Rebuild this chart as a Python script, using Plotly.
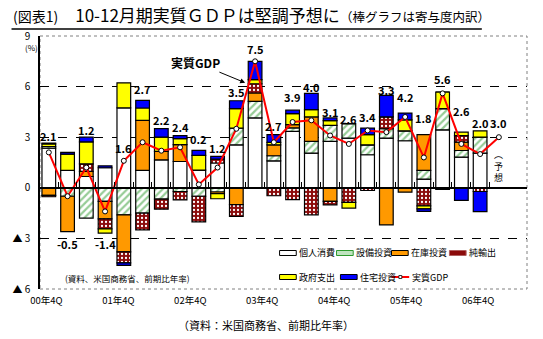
import plotly.graph_objects as go

# ---------------- data ----------------
quarters = ["00Q4", "01Q1", "01Q2", "01Q3", "01Q4", "02Q1", "02Q2", "02Q3", "02Q4",
            "03Q1", "03Q2", "03Q3", "03Q4", "04Q1", "04Q2", "04Q3", "04Q4",
            "05Q1", "05Q2", "05Q3", "05Q4", "06Q1", "06Q2", "06Q3", "06Q4"]
consumption = [2.35, 1.03, 0.67, 1.19, 4.74, 1.03, 1.66, 1.56, 1.05, 1.47, 2.55, 4.14,
               1.60, 3.35, 2.06, 2.75, 2.95, 1.96, 2.95, 2.79, 0.52, 3.44, 1.82, 2.06]
equipment = [0.10, -0.50, -1.80, -0.81, -1.60, -1.50, -0.67, -0.22, -0.50, -0.25, 0.99, 0.98,
             0.30, 0.20, 0.69, 0.95, 0.85, 0.59, 0.55, 0.59, 0.51, 1.25, 0.39, 0.94]
inventory = [-0.45, -2.10, 0.30, -1.03, -2.20, 2.97, 0.50, 1.00, 0.00, -0.10, -1.00, 0.50,
             0.65, 0.20, 1.45, -0.81, 0.00, 0.00, -2.20, -0.26, 2.12, 0.00, 0.50, 0.00]
net_exports = [-0.08, 0.00, 0.45, -0.59, -0.65, -1.00, -0.60, -0.49, -1.52, 0.23, -0.70, 0.55,
               -0.47, -0.70, -1.60, -0.20, -0.87, -0.16, 0.70, 0.00, -1.07, -0.10, 0.38, -0.22]
government = [0.15, 0.97, 1.30, -0.26, 1.48, 0.73, 0.85, 0.35, 0.87, -0.30, 1.15, 0.24,
              0.14, 0.65, 0.43, 0.28, -0.33, 0.60, 0.00, 0.65, -0.18, 0.99, 0.21, 0.38]
residential = [0.05, 0.10, 0.28, 0.11, -0.15, 0.45, 0.50, 0.18, 0.30, 0.16, 0.47, 1.09,
               0.46, 0.20, 0.97, 0.16, 0.00, 0.39, 1.28, 0.40, -0.15, 0.00, -0.75, -1.19]
gdp = [2.1, -0.5, 1.2, -1.4, 1.6, 2.7, 2.2, 2.4, 0.2, 1.2, 3.5, 7.5, 2.7, 3.9, 4.0, 3.1, 2.6,
       3.4, 3.3, 4.2, 1.8, 5.6, 2.6, 2.0, 3.0]
year_labels = ["00年4Q", "01年4Q", "02年4Q", "03年4Q", "04年4Q", "05年4Q", "06年4Q"]
y_ticks = [-6, -3, 0, 3, 6, 9]
y_ticktext = ["▲ 6", "▲ 3", "0", "3", "6", "9"]

# label vertical offsets (pixels) relative to bar stack end
label_shift = [7, -12, 7.5, -11, -65, 11, 9, 9, 11, 8, 9, 12.5, 9, 13, 6, 6, 5, 11, 5, 16,
               17, 13, 21, 8, 14.5]

FONT = "Noto Sans CJK JP"
n_bars = len(consumption)
xb = list(range(n_bars))
xl = list(range(len(gdp)))

# plot-area pixel geometry helpers (for decorations only)
L, R, T, B = 31, 527, 36, 289
def px(p):
    return (p - L) / (R - L)
def py(p):
    return (B - p) / (B - T)

fig = go.Figure()

series = [
    ("個人消費", consumption, dict(color="#FFFFFF")),
    ("設備投資", equipment, dict(color="#FFFFFF",
                              pattern=dict(shape="/", fgcolor="#2E9A2E", bgcolor="#FFFFFF",
                                           size=5, solidity=0.45))),
    ("在庫投資", inventory, dict(color="#FF9900")),
    ("純輸出", net_exports, dict(color="#8B0A0A",
                              pattern=dict(shape=".", fgcolor="#FFFFFF", bgcolor="#8B0A0A",
                                           size=4, solidity=0.25, fillmode="replace"))),
    ("政府支出", government, dict(color="#FFFF00")),
    ("住宅投資", residential, dict(color="#0000FF")),
]
for name, vals, mk in series:
    mk = dict(mk)
    mk["line"] = dict(color="#000000", width=1.2)
    fig.add_trace(go.Bar(x=xb, y=vals, name=name, marker=mk, showlegend=False,
                         hoverinfo="skip"))

# GDP line drawn on the overlaid axis that also carries the zero line and inner ticks
fig.add_trace(go.Scatter(x=xl, y=gdp, name="実質GDP", mode="lines+markers",
                         xaxis="x2",
                         line=dict(color="#FF0000", width=2),
                         marker=dict(symbol="circle", size=5, color="#FFFFFF",
                                     line=dict(color="#000000", width=1)),
                         showlegend=False, hoverinfo="skip"))
# empty trace that activates the year-label axis
fig.add_trace(go.Scatter(x=[], y=[], xaxis="x3", showlegend=False, hoverinfo="skip"))

ann = []
# GDP value labels
for i, v in enumerate(gdp):
    if i < n_bars:
        comps = [s[1][i] for s in series]
        pos = sum(c for c in comps if c > 0)
        neg = sum(c for c in comps if c < 0)
        anchor = pos if v >= 0 else neg
    else:
        anchor = v
    ann.append(dict(x=xl[i], y=anchor, yshift=label_shift[i], text=f"{v:.1f}",
                    showarrow=False, xanchor="center", yanchor="middle",
                    font=dict(family=FONT, size=11, color="#000000", weight="bold")))

# forecast note
ann.append(dict(x=xl[-1], y=gdp[-1], yshift=-29, text="︵<br>予<br>想", showarrow=False,
                xanchor="center", yanchor="middle",
                font=dict(family=FONT, size=9, color="#000000")))
# 実質GDP arrow label
ann.append(dict(x=10.47, y=6.23, ax=7.8, ay=7.45, axref="x", ayref="y", text="<b>実質GDP</b>",
                showarrow=True, arrowhead=2, arrowsize=1, arrowwidth=1, arrowcolor="#000000",
                standoff=0, startstandoff=0,
                font=dict(family=FONT, size=12, color="#000000")))
# source note inside plot
ann.append(dict(xref="paper", yref="paper", x=px(120), y=py(278), text="(資料、米国商務省、前期比年率)",
                showarrow=False, xanchor="center", yanchor="middle",
                font=dict(family=FONT, size=8.5, color="#000000")))
# (%)
ann.append(dict(xref="paper", yref="paper", x=px(31), y=py(48), text="(%)",
                showarrow=False, xanchor="right", yanchor="middle",
                font=dict(family=FONT, size=8, color="#000000")))
# title
ann.append(dict(xref="paper", yref="paper", x=px(1), y=py(14), showarrow=False,
                xanchor="left", yanchor="middle",
                text="<span style='font-size:14px'>(図表1)</span>　10-12月期実質ＧＤＰは堅調予想に"
                     "<span style='font-size:12.5px'>（棒グラフは寄与度内訳）</span>",
                font=dict(family=FONT, size=17, color="#000000")))
# bottom source
ann.append(dict(xref="paper", yref="paper", x=px(261), y=py(325), showarrow=False,
                xanchor="center", yanchor="middle", text="（資料：米国商務省、前期比年率）",
                font=dict(family=FONT, size=11, color="#000000")))

shapes = []
# plot border (dotted)
shapes.append(dict(type="rect", xref="paper", yref="paper", x0=0, x1=1, y0=0, y1=1,
                   line=dict(color="#808080", width=1, dash="dot"), layer="below"))
# title underline
shapes.append(dict(type="line", xref="paper", yref="paper", x0=px(2), x1=px(481),
                   y0=py(29), y1=py(29), line=dict(color="#000000", width=1.5)))

# manual legend
leg_items = [
    ("個人消費", 275, 253, dict(fill="#FFFFFF", line="#000000")),
    ("設備投資", 333, 253, dict(fill="#BFE3BF", line="#2E9A2E")),
    ("在庫投資", 389, 253, dict(fill="#FF9900", line="#000000")),
    ("純輸出", 448, 253, dict(fill="#8B0A0A", line="#B06060")),
    ("政府支出", 275, 277, dict(fill="#FFFF00", line="#000000")),
    ("住宅投資", 337, 277, dict(fill="#0000FF", line="#000000")),
]
for name, x0, yc, st in leg_items:
    shapes.append(dict(type="rect", xref="paper", yref="paper", x0=px(x0), x1=px(x0 + 17),
                       y0=py(yc + 2.5), y1=py(yc - 2.5), fillcolor=st["fill"],
                       line=dict(color=st["line"], width=1)))
    ann.append(dict(xref="paper", yref="paper", x=px(x0 + 18), y=py(yc), text=name,
                    showarrow=False, xanchor="left", yanchor="middle",
                    font=dict(family=FONT, size=9, color="#000000")))
shapes.append(dict(type="line", xref="paper", yref="paper", x0=px(389), x1=px(407),
                   y0=py(277), y1=py(277), line=dict(color="#FF0000", width=2)))
shapes.append(dict(type="rect", xref="paper", yref="paper", x0=px(396.5), x1=px(399.5),
                   y0=py(278.5), y1=py(275.5), fillcolor="#FFFFFF",
                   line=dict(color="#000000", width=0.8)))
ann.append(dict(xref="paper", yref="paper", x=px(408), y=py(277), text="実質GDP",
                showarrow=False, xanchor="left", yanchor="middle",
                font=dict(family=FONT, size=9, color="#000000")))

xr = [-0.47, 25.5]
fig.update_layout(
    width=543, height=339,
    margin=dict(l=L, r=543 - R, t=T, b=339 - B),
    paper_bgcolor="#FFFFFF", plot_bgcolor="#FFFFFF",
    barmode="relative", bargap=0.27,
    annotations=ann, shapes=shapes,
    xaxis=dict(range=xr, showticklabels=False, showgrid=False, zeroline=False,
               showline=False, ticks=""),
    xaxis2=dict(range=xr, overlaying="x", anchor="free", position=0.4, side="bottom",
                tickvals=[v + 0.5 for v in xb], ticks="inside", ticklen=5, tickwidth=1,
                tickcolor="#000000", showticklabels=False, showgrid=False, zeroline=False,
                showline=True, linecolor="#000000", linewidth=1.5),
    xaxis3=dict(range=[-0.089, 6.68], overlaying="x", anchor="y", side="bottom",
                tickvals=list(range(len(year_labels))), ticktext=year_labels, ticks="",
                showgrid=False, zeroline=False, showline=False, ticklabelstandoff=4,
                tickfont=dict(family=FONT, size=9.5, color="#000000")),
    yaxis=dict(range=[-6, 9], tickvals=y_ticks, ticktext=y_ticktext, showgrid=False,
               zeroline=False, showline=True, linecolor="#000000", linewidth=1.5, ticks="",
               ticklabelstandoff=6, tickfont=dict(family=FONT, size=10, color="#000000"),
               minor=dict(tickvals=[-3, 3, 6], showgrid=True, gridcolor="#000000",
                          griddash="dash", gridwidth=1, ticks="")),
    showlegend=False,
)

fig.write_html("out.html")
